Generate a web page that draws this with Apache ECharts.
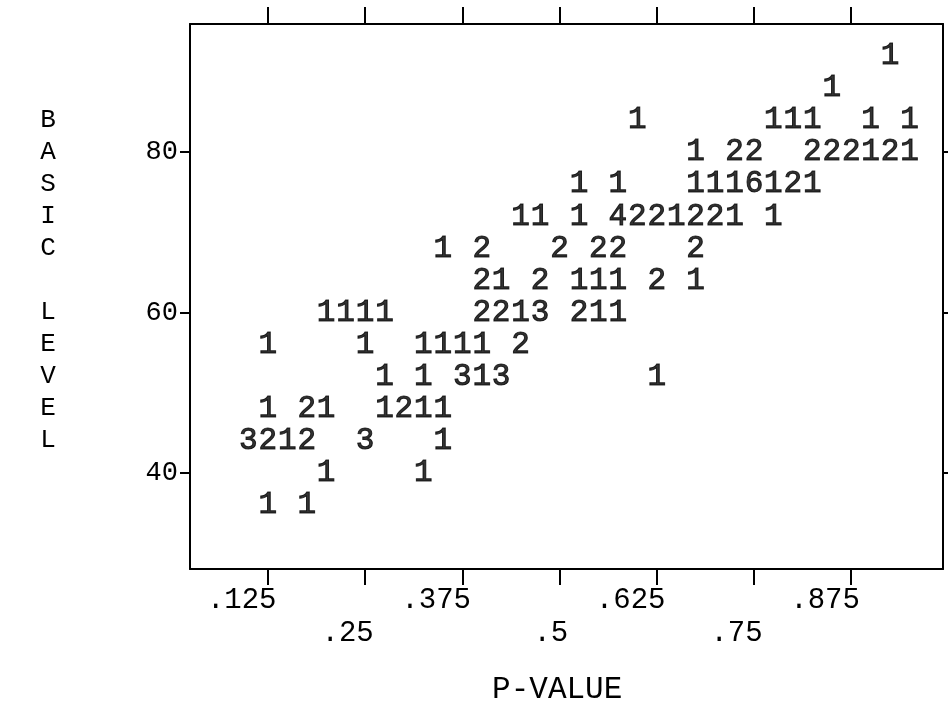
<!DOCTYPE html>
<html>
<head>
<meta charset="utf-8">
<script src="https://cdn.jsdelivr.net/npm/echarts@6/dist/echarts.min.js"></script>
<style>
  html, body { margin: 0; padding: 0; background: #ffffff; }
  #chart { width: 949px; height: 714px; }
</style>
</head>
<body>
<div id="chart"></div>
<script>
// Printer-style scatter: each digit is the number of items falling in that cell.
// One entry per printed digit, row by row from the top.
const pValues = [
  0.925,
  0.85,
  0.6, 0.775, 0.8, 0.825, 0.9, 0.95,
  0.675, 0.725, 0.75, 0.825, 0.85, 0.875, 0.9, 0.925, 0.95,
  0.525, 0.575, 0.675, 0.7, 0.725, 0.75, 0.775, 0.8, 0.825,
  0.45, 0.475, 0.525, 0.575, 0.6, 0.625, 0.65, 0.675, 0.7, 0.725, 0.775,
  0.35, 0.4, 0.5, 0.55, 0.575, 0.675,
  0.4, 0.425, 0.475, 0.525, 0.55, 0.575, 0.625, 0.675,
  0.2, 0.225, 0.25, 0.275, 0.4, 0.425, 0.45, 0.475, 0.525, 0.55, 0.575,
  0.125, 0.25, 0.325, 0.35, 0.375, 0.4, 0.45,
  0.275, 0.325, 0.375, 0.4, 0.425, 0.625,
  0.125, 0.175, 0.2, 0.275, 0.3, 0.325, 0.35,
  0.1, 0.125, 0.15, 0.175, 0.25, 0.35,
  0.2, 0.325,
  0.125, 0.175
];
const basicLevels = [
  92,
  88,
  84, 84, 84, 84, 84, 84,
  80, 80, 80, 80, 80, 80, 80, 80, 80,
  76, 76, 76, 76, 76, 76, 76, 76, 76,
  72, 72, 72, 72, 72, 72, 72, 72, 72, 72, 72,
  68, 68, 68, 68, 68, 68,
  64, 64, 64, 64, 64, 64, 64, 64,
  60, 60, 60, 60, 60, 60, 60, 60, 60, 60, 60,
  56, 56, 56, 56, 56, 56, 56,
  52, 52, 52, 52, 52, 52,
  48, 48, 48, 48, 48, 48, 48,
  44, 44, 44, 44, 44, 44,
  40, 40,
  36, 36
];
const counts = [
  1,
  1,
  1, 1, 1, 1, 1, 1,
  1, 2, 2, 2, 2, 2, 1, 2, 1,
  1, 1, 1, 1, 1, 6, 1, 2, 1,
  1, 1, 1, 4, 2, 2, 1, 2, 2, 1, 1,
  1, 2, 2, 2, 2, 2,
  2, 1, 2, 1, 1, 1, 2, 1,
  1, 1, 1, 1, 2, 2, 1, 3, 2, 1, 1,
  1, 1, 1, 1, 1, 1, 2,
  1, 1, 3, 1, 3, 1,
  1, 2, 1, 1, 2, 1, 1,
  3, 2, 1, 2, 3, 1,
  1, 1,
  1, 1
];

const xTicks = [0.125, 0.25, 0.375, 0.5, 0.625, 0.75, 0.875];
const xLabelsUpper = [0.125, 0.375, 0.625, 0.875];
const xLabelsLower = [0.25, 0.5, 0.75];
const yTicks = [40, 60, 80];

const xTitle = 'P-VALUE';
const yTitle = 'BASIC LEVEL';

const X_MIN = 0.025, X_MAX = 0.993;
const Y_MIN = 28, Y_MAX = 96;
const MONO = 'Liberation Mono';
const INK = '#000000';

// Print the value without the leading zero; trailing blanks put the last digit on the tick.
function tickText(v) {
  const s = String(v).replace(/^0/, '');
  return s + ' '.repeat(s.length - 1);
}

const cells = pValues.map((p, i) => [p, basicLevels[i], counts[i]]);

const lineStyle = { color: INK, width: 2 };
const xBase = { type: 'value', min: X_MIN, max: X_MAX, splitLine: { show: false } };
const yBase = { type: 'value', min: Y_MIN, max: Y_MAX, splitLine: { show: false } };

const chart = echarts.init(document.getElementById('chart'), null, { renderer: 'canvas' });
chart.setOption({
  animation: false,
  backgroundColor: '#ffffff',
  grid: { left: 190, right: 6, top: 24, bottom: 145, containLabel: false },
  xAxis: [
    Object.assign({}, xBase, {
      position: 'bottom',
      axisLine: { show: true, lineStyle: lineStyle, onZero: false },
      axisTick: { show: true, customValues: xTicks, length: 16, lineStyle: lineStyle },
      axisLabel: {
        show: true, customValues: xLabelsUpper, formatter: tickText, margin: 17,
        align: 'center', fontFamily: MONO, fontSize: 29, color: INK
      },
      // trailing blank nudges the centred title slightly left
      name: xTitle + ' ', nameLocation: 'middle', nameGap: 121,
      nameTextStyle: { fontFamily: MONO, fontSize: 31, color: INK, verticalAlign: 'middle' }
    }),
    Object.assign({}, xBase, {
      position: 'bottom',
      axisLine: { show: false },
      axisTick: { show: false },
      axisLabel: {
        show: true, customValues: xLabelsLower, formatter: tickText, margin: 50,
        align: 'center', fontFamily: MONO, fontSize: 29, color: INK
      }
    }),
    Object.assign({}, xBase, {
      position: 'top',
      axisLine: { show: true, lineStyle: lineStyle, onZero: false },
      axisTick: { show: true, customValues: xTicks, length: 17, lineStyle: lineStyle },
      axisLabel: { show: false }
    })
  ],
  yAxis: [
    Object.assign({}, yBase, {
      position: 'left',
      axisLine: { show: true, lineStyle: lineStyle, onZero: false },
      axisTick: { show: true, customValues: yTicks, length: 10, lineStyle: lineStyle },
      axisLabel: {
        show: true, customValues: yTicks, margin: 12,
        fontFamily: MONO, fontSize: 27, color: INK
      },
      // stacked letters; the blank last line lifts the block by half a row
      name: yTitle.split('').join('\n') + '\n ',
      nameLocation: 'middle', nameRotate: 0, nameGap: 142,
      nameTextStyle: {
        fontFamily: MONO, fontSize: 26, lineHeight: 32, color: INK,
        align: 'center', verticalAlign: 'middle'
      }
    }),
    Object.assign({}, yBase, {
      position: 'right',
      axisLine: { show: true, lineStyle: lineStyle, onZero: false },
      axisTick: { show: true, customValues: yTicks, length: 5, lineStyle: lineStyle },
      axisLabel: { show: false }
    })
  ],
  series: [{
    type: 'scatter',
    xAxisIndex: 0,
    yAxisIndex: 0,
    data: cells,
    symbol: 'circle',
    symbolSize: 1,
    itemStyle: { color: 'rgba(0,0,0,0)' },
    label: {
      show: true,
      position: 'inside',
      formatter: (p) => String(p.value[2]),
      fontFamily: MONO,
      fontWeight: 'normal',
      fontSize: 31,
      color: INK,
      textBorderColor: INK,
      textBorderWidth: 1,
      align: 'center',
      verticalAlign: 'middle'
    },
    emphasis: { disabled: true },
    silent: true
  }]
});
</script>
</body>
</html>
